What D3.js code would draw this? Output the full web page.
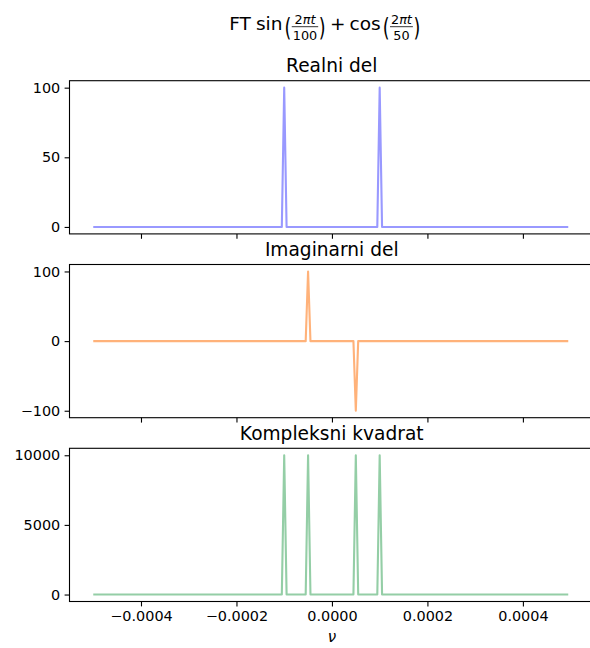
<!DOCTYPE html>
<html>
<head>
<meta charset="utf-8">
<script src="https://cdn.jsdelivr.net/npm/d3@7"></script>
<style>
  html, body { margin: 0; padding: 0; background: #fff; }
  svg { display: block; }
  text { font-family: "DejaVu Sans", sans-serif; fill: #000; }
</style>
</head>
<body>
<svg id="chart" width="590" height="648"></svg>
<script>
// Spectrum vertices: frequency (nu) and value of each component
const nuReal   = [-0.0005, -0.000105, -0.0001, -0.000095, 0.000095, 0.0001, 0.000105, 0.000495];
const realVals = [0, 0, 100, 0, 0, 100, 0, 0];

const nuImag   = [-0.0005, -0.000055, -0.00005, -0.000045, 0.000045, 0.00005, 0.000055, 0.000495];
const imagVals = [0, 0, 100, 0, 0, -100, 0, 0];

const nuPower   = [-0.0005, -0.000105, -0.0001, -0.000095, -0.000055, -0.00005, -0.000045,
                   0.000045, 0.00005, 0.000055, 0.000095, 0.0001, 0.000105, 0.000495];
const powerVals = [0, 0, 10000, 0, 0, 10000, 0, 0, 10000, 0, 0, 10000, 0, 0];

const panelTitles = ["Realni del", "Imaginarni del", "Kompleksni kvadrat"];
const xTicks = [-0.0004, -0.0002, 0, 0.0002, 0.0004];
const yTicks = [[0, 50, 100], [-100, 0, 100], [0, 5000, 10000]];

const panels = [
  { nu: nuReal,  vals: realVals,  color: "rgb(153,153,255)" },
  { nu: nuImag,  vals: imagVals,  color: "rgb(255,178,122)" },
  { nu: nuPower, vals: powerVals, color: "rgb(148,206,166)" }
];

const svg = d3.select("#chart");
const left = 69.5, right = 592;
const tops = [80.7, 264.5, 448.3];
const axH = 153.2;
const tickLen = 4.9;
const tickFont = 14.4;
const fmtMinus = s => s.replace("-", "\u2212");

// Shared x scale with 5% margins, as in the plotting library
function padded(ext) {
  const span = ext[1] - ext[0];
  return [ext[0] - 0.05 * span, ext[1] + 0.05 * span];
}
const allNu = nuReal.concat(nuImag, nuPower);
const x = d3.scaleLinear().domain(padded(d3.extent(allNu))).range([left, right]);

panels.forEach((p, i) => {
  const top = tops[i], bottom = top + axH;
  const y = d3.scaleLinear().domain(padded(d3.extent(p.vals))).range([bottom, top]);
  const g = svg.append("g");

  // data line
  const pts = p.nu.map((n, k) => [n, p.vals[k]]);
  g.append("path")
    .datum(pts)
    .attr("fill", "none")
    .attr("stroke", p.color)
    .attr("stroke-width", 2.1)
    .attr("stroke-linejoin", "round")
    .attr("d", d3.line().x(d => x(d[0])).y(d => y(d[1])));

  // frame
  g.append("rect")
    .attr("x", left).attr("y", top)
    .attr("width", right - left).attr("height", axH)
    .attr("fill", "none").attr("stroke", "#000").attr("stroke-width", 1.1);

  // y axis
  const yAxis = d3.axisLeft(y).tickValues(yTicks[i])
    .tickSize(tickLen).tickPadding(4.4)
    .tickFormat(d => fmtMinus(String(d)));
  const ya = g.append("g").attr("transform", `translate(${left},0)`).call(yAxis);
  ya.select(".domain").remove();
  ya.selectAll(".tick line").attr("stroke", "#000").attr("stroke-width", 1.1);
  ya.selectAll(".tick text").attr("font-size", tickFont).attr("font-family", "DejaVu Sans").attr("fill", "#000");

  // x axis (labels only on the bottom panel)
  const xAxis = d3.axisBottom(x).tickValues(xTicks)
    .tickSize(tickLen).tickPadding(4.4)
    .tickFormat(i === 2 ? (d => fmtMinus(d3.format(".4f")(d))) : () => "");
  const xa = g.append("g").attr("transform", `translate(0,${bottom})`).call(xAxis);
  xa.select(".domain").remove();
  xa.selectAll(".tick line").attr("stroke", "#000").attr("stroke-width", 1.1);
  xa.selectAll(".tick text").attr("font-size", tickFont).attr("font-family", "DejaVu Sans").attr("fill", "#000");

  // panel title
  g.append("text")
    .attr("x", (left + right) / 2 + 1)
    .attr("y", top - 8.3)
    .attr("text-anchor", "middle")
    .attr("font-size", 18.6)
    .text(panelTitles[i]);
});

// x label
svg.append("text")
  .attr("x", x(0))
  .attr("y", 642)
  .attr("text-anchor", "middle")
  .attr("font-size", 15)
  .attr("font-style", "italic")
  .text("\u03bd");

// Figure title with stacked fractions
const title = svg.append("g");
let cx = 0;
const base = 30;
function word(str, opts = {}) {
  const t = title.append("text")
    .attr("x", cx).attr("y", base)
    .attr("font-size", opts.size || 18.5)
    .text(str);
  cx += t.node().getComputedTextLength() + (opts.after || 0);
  return t;
}
function paren(ch) {
  const t = title.append("text")
    .attr("font-size", 17.5)
    .attr("transform", `translate(${cx},${base + 5.8}) scale(1,1.45)`)
    .text(ch);
  cx += t.node().getComputedTextLength() + 0.5;
}
function frac(num, den) {
  const fs = 12.8;
  const n = title.append("text").attr("y", base - 5.8).attr("font-size", fs);
  n.append("tspan").text(num[0]);
  n.append("tspan").attr("font-style", "italic").text(num.slice(1));
  const d = title.append("text").attr("y", base + 9.6).attr("font-size", fs).text(den);
  const wn = n.node().getComputedTextLength();
  const wd = d.node().getComputedTextLength();
  const w = Math.max(wn, wd) + 2;
  n.attr("x", cx + (w - wn) / 2);
  d.attr("x", cx + (w - wd) / 2);
  title.append("line")
    .attr("x1", cx).attr("x2", cx + w)
    .attr("y1", base - 3.3).attr("y2", base - 3.3)
    .attr("stroke", "#000").attr("stroke-width", 0.8);
  cx += w + 0.5;
}
word("FT", { after: 5 });
word("sin", { after: 2 });
paren("(");
frac("2\u03c0t", "100");
paren(")");
cx += 4;
word("+", { after: 4 });
word("cos", { after: 2 });
paren("(");
frac("2\u03c0t", "50");
paren(")");
const tw = cx;
title.attr("transform", `translate(${325 - tw / 2},0)`);
</script>
</body>
</html>
